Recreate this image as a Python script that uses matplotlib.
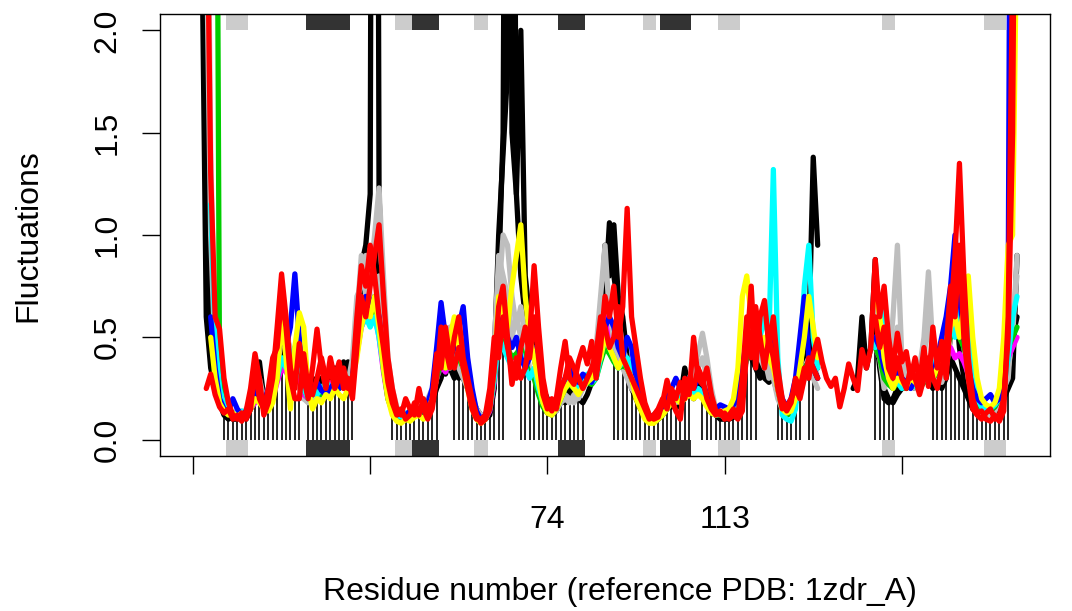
import numpy as np
import matplotlib
matplotlib.use("Agg")
import matplotlib.pyplot as plt
from matplotlib.patches import Rectangle

plt.rcParams['font.family'] = ['Liberation Sans', 'DejaVu Sans']

NA = np.nan

# ---------------- data (alignment positions 0..186) ----------------
red_a = [NA,NA,NA,0.25,0.32,0.22,0.16,0.13,0.15,0.10,
 0.12,0.09,0.14,0.25,0.42,0.30,0.12,0.18,0.30,0.55,
 0.81,0.60,0.35,0.25,0.47,0.30,0.20,0.35,0.54,0.35,
 0.25,0.40,0.30,0.38,0.25,0.30,0.20,0.45,0.70,0.60,
 0.75,0.90,1.05,0.70,0.40,0.25,0.15,0.12,0.20,0.15,
 0.12,0.25,0.15,0.10,0.15,0.30,0.55,0.45,0.35,0.50,
 0.60,0.40,0.30,0.20,0.12,0.08,0.10,0.15,0.35,0.65,
 0.75,0.50,0.27,0.40,0.30,0.35,0.50,0.85,0.55,0.30,
 0.18,0.14,0.20,0.35,0.48,0.30,0.27,0.38,0.45,0.37,
 0.48,0.30,0.45,0.70,0.60,0.75,0.50,0.65,1.13,0.60,
 0.45,0.30,0.18,0.12,0.10,0.11,0.18,0.29,0.20,0.14,
 0.10,0.30,0.22,0.50,0.30,0.27,0.35,0.22,0.14,0.12,
 0.13,0.10,0.12,0.10,0.14,0.45,0.75,0.35,0.60,0.68,
 0.45,0.60,0.35,0.20,0.14,0.18,0.30,0.25,0.35,0.30,
 0.42,0.49,0.38,0.30,0.26,0.30,0.16,0.25,0.37,0.30,
 0.24,0.44,0.35,0.45,0.88,0.60,0.75,0.50,0.35,0.52,
 0.38,0.43,0.30,0.40,0.28,0.45,0.26,0.55,0.35,0.48,
 0.30,0.60,0.90,1.35,0.80,0.40,0.20,0.13,0.14,0.10,
 0.09,0.12,0.09,0.14,0.60,2.30,5.00]

red_b = [4.5,4.0,3.5,3.0,1.3,0.60,0.54,0.30,0.18,0.12,
 0.10,0.13,0.10,0.15,0.35,0.20,0.15,0.25,0.40,0.45,
 0.70,0.55,0.30,0.20,0.20,0.42,0.25,0.22,0.30,0.40,
 0.30,0.35,0.25,0.30,0.35,0.25,0.30,0.60,0.85,0.75,
 0.95,0.80,0.60,0.45,0.28,0.18,0.12,0.15,0.10,0.12,
 0.18,0.12,0.20,0.14,0.20,0.42,0.35,0.55,0.40,0.35,
 0.45,0.35,0.25,0.15,0.10,0.10,0.12,0.25,0.50,0.40,
 0.60,0.45,0.35,0.30,0.45,0.55,0.40,0.60,0.40,0.22,
 0.15,0.20,0.15,0.25,0.30,0.40,0.35,0.30,0.25,0.30,
 0.35,0.42,0.60,0.55,0.45,0.50,0.65,0.40,0.35,0.30,
 0.25,0.20,0.15,0.10,0.12,0.15,0.20,0.15,0.25,0.20,
 0.28,0.20,0.30,0.25,0.35,0.30,0.20,0.15,0.12,0.14,
 0.10,0.12,0.15,0.12,0.30,0.60,0.40,0.65,0.50,0.35,
 0.50,0.40,0.25,0.15,0.16,0.20,0.25,0.20,0.30,0.40,
 0.35,0.30,NA,NA,NA,NA,NA,NA,NA,NA,
 NA,NA,NA,NA,0.60,0.45,0.55,0.35,0.30,0.40,
 0.30,0.25,0.35,0.30,0.22,0.30,0.40,0.30,0.25,0.35,
 0.45,0.75,0.60,0.95,0.50,0.30,0.15,0.12,0.10,0.13,
 0.15,0.10,0.12,0.20,0.50,1.50,4.50]

black_a = [5.0,4.5,4.0,1.00,0.45,0.30,0.20,0.15,0.12,0.10,
 0.10,0.12,0.10,0.15,0.30,0.38,0.20,0.15,0.20,0.30,
 0.45,0.55,0.40,0.30,0.40,0.25,0.20,0.25,0.30,0.25,
 0.30,0.28,0.35,0.30,0.38,0.32,0.30,0.45,0.85,0.95,
 1.20,9.00,1.20,0.60,0.35,0.20,0.14,0.12,0.10,0.11,
 0.13,0.15,0.12,0.15,0.18,0.25,0.30,0.40,0.35,0.30,
 0.40,0.30,0.25,0.20,0.15,0.12,0.10,0.12,0.25,0.80,
 1.50,6.00,1.50,1.20,2.00,0.80,0.60,0.50,0.35,0.25,
 0.20,0.15,0.14,0.18,0.20,0.25,0.22,0.20,0.18,0.22,
 0.28,0.30,0.55,0.95,0.80,1.05,0.70,0.60,0.40,0.30,
 0.25,0.20,0.15,0.12,0.10,0.10,0.12,0.15,0.18,0.15,
 0.20,0.35,0.25,0.20,0.28,0.30,0.20,0.15,0.12,0.10,
 0.10,0.10,0.11,0.12,0.20,0.55,0.40,0.35,0.30,0.35,
 0.30,0.35,0.25,0.18,0.15,0.14,0.18,0.25,0.30,0.50,
 1.38,0.95,NA,NA,NA,NA,NA,NA,NA,0.25,
 0.30,0.60,0.35,0.45,0.88,0.40,0.25,0.20,0.18,0.22,
 0.25,0.30,0.28,0.35,0.25,0.30,0.35,0.45,0.30,0.25,
 0.30,0.40,0.35,0.30,0.25,0.20,0.15,0.13,0.12,0.12,
 0.13,0.15,0.14,0.20,0.25,0.30,0.90]

black_b = [4.0,3.0,2.5,0.60,0.35,0.25,0.18,0.12,0.10,0.12,
 0.14,0.10,0.12,0.20,0.25,0.30,0.18,0.20,0.25,0.35,
 0.50,0.40,0.30,0.35,0.28,0.20,0.22,0.30,0.25,0.30,
 0.25,0.32,0.28,0.30,0.35,0.38,0.33,0.50,0.70,0.90,
 0.85,0.95,0.70,0.45,0.28,0.16,0.12,0.10,0.12,0.14,
 0.12,0.13,0.15,0.18,0.22,0.30,0.35,0.32,0.40,0.35,
 0.30,0.35,0.28,0.18,0.12,0.10,0.12,0.18,0.40,1.00,
 1.40,1.80,5.00,1.20,0.80,0.60,0.45,0.40,0.30,0.22,
 0.16,0.14,0.16,0.20,0.18,0.22,0.20,0.24,0.28,0.30,
 0.32,0.35,0.45,0.70,1.06,0.80,0.65,0.50,0.35,0.25,
 0.20,0.15,0.12,0.11,0.12,0.14,0.16,0.20,0.16,0.22,
 0.25,0.30,0.22,0.25,0.30,0.25,0.18,0.14,0.12,0.11,
 0.12,0.11,0.13,0.14,0.25,0.45,0.50,0.40,0.35,0.30,
 0.28,0.30,0.22,0.16,0.14,0.15,0.20,0.30,0.35,0.30,
 0.50,0.35,NA,NA,NA,NA,NA,NA,NA,NA,
 NA,NA,NA,NA,0.55,0.35,0.20,0.18,0.20,0.25,
 0.30,0.25,0.30,0.25,0.30,0.35,0.30,0.25,0.30,0.45,
 0.35,0.50,0.70,0.45,0.30,0.25,0.18,0.15,0.13,0.14,
 0.15,0.14,0.18,0.22,0.35,0.50,0.60]

gray_a = [5.0,4.5,4.0,3.5,1.40,0.45,0.30,0.20,0.15,0.12,
 0.14,0.12,0.15,0.18,0.25,0.22,0.18,0.20,0.28,0.40,
 0.60,0.50,0.45,0.35,0.30,0.22,0.20,0.18,0.22,0.20,
 0.25,0.22,0.25,0.28,0.25,0.30,0.35,0.60,0.90,0.70,
 0.80,1.00,1.23,0.80,0.40,0.25,0.16,0.13,0.12,0.13,
 0.14,0.16,0.15,0.17,0.20,0.30,0.40,0.50,0.55,0.45,
 0.40,0.35,0.30,0.22,0.15,0.12,0.10,0.15,0.30,0.70,
 1.00,0.95,0.70,0.55,0.65,0.50,0.45,0.40,0.30,0.20,
 0.15,0.13,0.14,0.18,0.20,0.18,0.22,0.20,0.25,0.30,
 0.35,0.45,0.70,0.95,0.60,0.50,0.60,0.45,0.38,0.30,
 0.28,0.20,0.14,0.12,0.11,0.12,0.14,0.18,0.20,0.22,
 0.20,0.25,0.30,0.35,0.42,0.52,0.40,0.25,0.15,0.13,
 0.12,0.11,0.12,0.15,0.30,0.50,0.65,0.55,0.40,0.35,
 0.38,0.30,0.20,0.15,0.12,0.14,0.18,0.25,0.35,0.40,
 0.30,0.25,NA,NA,NA,NA,NA,NA,NA,NA,
 NA,NA,NA,NA,0.70,0.50,0.30,0.35,0.60,0.95,
 0.40,0.30,0.25,0.30,0.35,0.50,0.82,0.45,0.30,0.28,
 0.35,0.50,0.70,0.55,0.45,0.30,0.20,0.16,0.14,0.12,
 0.12,0.14,0.18,0.25,0.30,0.60,0.80]

gray_b = [4.0,3.5,3.0,2.5,1.00,0.40,0.25,0.18,0.14,0.11,
 0.12,0.14,0.12,0.16,0.22,0.30,0.20,0.16,0.22,0.35,
 0.50,0.58,0.40,0.30,0.25,0.20,0.18,0.22,0.26,0.22,
 0.28,0.25,0.30,0.25,0.30,0.28,0.40,0.70,0.75,0.90,
 0.70,0.60,0.80,0.55,0.30,0.20,0.14,0.12,0.13,0.12,
 0.15,0.14,0.16,0.20,0.25,0.35,0.45,0.40,0.35,0.40,
 0.35,0.30,0.25,0.20,0.14,0.11,0.12,0.20,0.45,0.90,
 0.80,0.70,0.50,0.60,0.50,0.45,0.35,0.30,0.25,0.18,
 0.14,0.15,0.17,0.20,0.22,0.20,0.18,0.22,0.25,0.28,
 0.30,0.40,0.55,0.60,0.50,0.45,0.40,0.35,0.30,0.25,
 0.22,0.18,0.13,0.11,0.12,0.13,0.15,0.17,0.22,0.18,
 0.22,0.20,0.25,0.30,0.35,0.40,0.30,0.20,0.14,0.12,
 0.11,0.12,0.13,0.14,0.25,0.40,0.50,0.60,0.45,0.40,
 0.30,0.35,0.25,0.16,0.13,0.15,0.20,0.22,0.30,0.35,
 0.40,0.30,NA,NA,NA,NA,NA,NA,NA,NA,
 NA,NA,NA,NA,0.50,0.40,0.25,0.30,0.45,0.55,
 0.35,0.28,0.30,0.25,0.30,0.40,0.60,0.40,0.35,0.30,
 0.40,0.60,0.55,0.70,0.50,0.35,0.22,0.15,0.13,0.14,
 0.13,0.15,0.20,0.22,0.35,0.50,0.90]

blue = [NA,NA,NA,NA,0.60,0.35,0.20,0.15,0.14,0.20,
 0.15,0.12,0.14,0.18,0.25,0.20,0.18,0.25,0.30,0.40,
 0.50,0.45,0.55,0.81,0.50,0.30,0.22,0.25,0.28,0.24,
 0.22,0.25,0.28,0.25,0.30,0.28,0.30,0.50,0.60,0.70,
 0.65,0.70,0.60,0.40,0.25,0.16,0.12,0.13,0.12,0.14,
 0.13,0.15,0.14,0.18,0.25,0.45,0.67,0.50,0.40,0.45,
 0.55,0.65,0.40,0.25,0.14,0.10,0.12,0.18,0.35,0.60,
 0.55,0.50,0.45,0.50,0.40,0.35,0.40,0.45,0.30,0.20,
 0.15,0.14,0.18,0.25,0.30,0.35,0.30,0.28,0.32,0.30,
 0.28,0.35,0.45,0.55,0.60,0.55,0.45,0.40,0.50,0.45,
 0.30,0.20,0.14,0.12,0.11,0.13,0.15,0.20,0.25,0.30,
 0.25,0.28,0.30,0.25,0.30,0.28,0.22,0.16,0.15,0.17,
 0.16,0.15,0.17,0.20,0.35,0.50,0.45,0.40,0.50,0.45,
 0.40,0.50,0.30,0.20,0.16,0.20,0.30,0.50,0.70,0.40,
 0.35,0.30,NA,NA,NA,NA,NA,NA,NA,NA,
 NA,NA,NA,NA,0.50,0.45,0.35,0.30,0.28,0.35,
 0.30,0.28,0.25,0.30,0.28,0.30,0.35,0.30,0.40,0.50,
 0.60,0.75,1.00,0.70,0.50,0.35,0.25,0.20,0.18,0.20,
 0.22,0.18,0.20,0.30,0.70,6.00,7.00]

cyan = [NA,NA,NA,NA,1.15,0.50,0.25,0.17,0.14,0.13,
 0.12,0.14,0.13,0.16,0.20,0.22,0.18,0.20,0.25,0.30,
 0.40,0.35,0.40,0.45,0.35,0.25,0.20,0.25,0.22,0.25,
 0.28,0.26,0.24,0.28,0.26,0.30,0.28,0.45,0.55,0.60,
 0.55,0.60,0.50,0.35,0.22,0.15,0.12,0.11,0.13,0.12,
 0.14,0.13,0.16,0.18,0.22,0.35,0.45,0.40,0.35,0.45,
 0.50,0.48,0.35,0.22,0.13,0.10,0.11,0.15,0.30,0.50,
 0.45,0.40,0.35,0.38,0.42,0.35,0.30,0.35,0.25,0.18,
 0.14,0.13,0.16,0.22,0.28,0.30,0.27,0.25,0.30,0.32,
 0.28,0.30,0.40,0.50,0.45,0.40,0.35,0.38,0.40,0.35,
 0.25,0.18,0.12,0.10,0.09,0.11,0.13,0.17,0.20,0.22,
 0.20,0.22,0.25,0.22,0.25,0.23,0.18,0.14,0.12,0.13,
 0.12,0.13,0.15,0.18,0.30,0.45,0.50,0.55,0.50,0.60,
 0.50,1.32,0.40,0.12,0.10,0.09,0.15,0.40,0.75,0.95,
 0.50,0.35,NA,NA,NA,NA,NA,NA,NA,NA,
 NA,NA,NA,NA,0.45,0.55,0.65,0.45,0.30,0.28,
 0.25,0.28,0.30,0.26,0.28,0.30,0.28,0.35,0.40,0.45,
 0.55,0.60,0.50,0.65,0.80,0.50,0.30,0.20,0.16,0.14,
 0.15,0.17,0.20,0.25,0.40,0.60,0.70]

yellow = [NA,NA,NA,NA,0.50,0.30,0.18,0.14,0.12,0.13,
 0.11,0.13,0.12,0.15,0.20,0.18,0.15,0.14,0.18,0.30,
 0.62,0.40,0.15,0.45,0.62,0.55,0.25,0.15,0.20,0.18,
 0.22,0.20,0.25,0.22,0.20,0.25,0.30,0.40,0.55,0.65,
 0.60,0.70,0.55,0.35,0.20,0.12,0.09,0.08,0.10,0.09,
 0.11,0.12,0.10,0.14,0.20,0.35,0.40,0.35,0.50,0.60,
 0.45,0.35,0.25,0.15,0.10,0.08,0.10,0.16,0.35,0.70,
 0.60,0.55,0.75,0.90,1.05,0.70,0.50,0.40,0.28,0.18,
 0.13,0.12,0.15,0.20,0.25,0.28,0.25,0.22,0.26,0.28,
 0.30,0.35,0.40,0.50,0.45,0.40,0.35,0.40,0.35,0.30,
 0.20,0.15,0.10,0.08,0.08,0.10,0.12,0.15,0.18,0.20,
 0.18,0.20,0.22,0.20,0.22,0.20,0.16,0.13,0.12,0.13,
 0.14,0.15,0.20,0.35,0.70,0.80,0.60,0.55,0.45,0.50,
 0.40,0.35,0.25,0.15,0.13,0.14,0.20,0.35,0.50,0.70,
 0.55,0.40,NA,NA,NA,NA,NA,NA,NA,NA,
 NA,NA,NA,NA,0.72,0.60,0.40,0.30,0.25,0.30,
 0.28,0.26,0.30,0.28,0.26,0.30,0.35,0.30,0.35,0.40,
 0.45,0.55,0.60,0.50,0.65,0.80,0.50,0.30,0.20,0.17,
 0.16,0.18,0.25,0.50,0.95,1.00,2.60]

green = [NA,NA,NA,NA,6.0,5.0,0.30,0.16,0.13,0.12,
 0.12,0.13,0.12,0.15,0.20,0.20,0.16,0.18,0.22,0.30,
 0.40,0.38,0.35,0.40,0.35,0.25,0.20,0.22,0.24,0.22,
 0.25,0.24,0.26,0.25,0.28,0.27,0.30,0.45,0.60,0.65,
 0.60,0.65,0.55,0.35,0.20,0.14,0.11,0.10,0.11,0.12,
 0.12,0.13,0.14,0.16,0.20,0.30,0.38,0.35,0.40,0.42,
 0.40,0.35,0.28,0.18,0.12,0.09,0.10,0.15,0.30,0.50,
 0.48,0.45,0.40,0.42,0.45,0.38,0.32,0.30,0.22,0.16,
 0.13,0.12,0.15,0.20,0.25,0.27,0.25,0.23,0.27,0.28,
 0.27,0.30,0.38,0.45,0.42,0.38,0.35,0.36,0.35,0.30,
 0.22,0.16,0.11,0.09,0.09,0.10,0.12,0.15,0.18,0.20,
 0.19,0.21,0.23,0.21,0.23,0.21,0.17,0.13,0.12,0.12,
 0.12,0.13,0.15,0.18,0.30,0.40,0.45,0.45,0.50,0.45,
 0.40,0.38,0.25,0.15,0.12,0.13,0.20,0.30,0.35,0.38,
 0.35,0.30,NA,NA,NA,NA,NA,NA,NA,NA,
 NA,NA,NA,NA,0.45,0.40,0.30,0.27,0.25,0.28,
 0.26,0.25,0.27,0.26,0.25,0.28,0.30,0.30,0.33,0.38,
 0.45,0.50,0.55,0.50,0.45,0.38,0.25,0.18,0.15,0.14,
 0.14,0.16,0.20,0.30,0.45,0.50,0.55]

magenta = [NA,NA,NA,NA,NA,0.30,0.20,0.15,0.13,0.12,
 0.12,0.13,0.13,0.15,0.18,0.20,0.17,0.18,0.20,0.28,
 0.35,0.33,0.30,0.35,0.30,0.22,0.20,0.22,0.25,0.24,
 0.26,0.28,0.27,0.26,0.28,0.27,0.30,0.42,0.55,0.60,
 0.58,0.62,0.50,0.33,0.20,0.14,0.11,0.10,0.11,0.12,
 0.12,0.13,0.15,0.17,0.20,0.30,0.36,0.33,0.38,0.40,
 0.42,0.38,0.30,0.20,0.12,0.09,0.10,0.14,0.28,0.48,
 0.45,0.42,0.40,0.40,0.42,0.36,0.30,0.32,0.24,0.17,
 0.13,0.12,0.15,0.22,0.28,0.32,0.30,0.27,0.29,0.30,
 0.28,0.32,0.50,0.60,0.45,0.40,0.36,0.37,0.36,0.30,
 0.22,0.16,0.11,0.09,0.09,0.10,0.12,0.15,0.18,0.20,
 0.19,0.21,0.23,0.21,0.23,0.21,0.17,0.13,0.12,0.12,
 0.12,0.13,0.15,0.18,0.30,0.40,0.45,0.45,0.48,0.45,
 0.40,0.38,0.25,0.15,0.12,0.13,0.20,0.30,0.35,0.38,
 0.35,0.30,NA,NA,NA,NA,NA,NA,NA,NA,
 NA,NA,NA,NA,0.45,0.40,0.32,0.28,0.26,0.28,
 0.27,0.26,0.27,0.26,0.26,0.29,0.30,0.30,0.33,0.38,
 0.42,0.45,0.40,0.42,0.38,0.32,0.22,0.17,0.15,0.14,
 0.14,0.16,0.20,0.30,0.40,0.45,0.50]

# significant-difference positions (start, end)
signif_ranges = [(7, 24), (26, 36), (45, 55), (59, 70), (74, 88), (95, 112),
                 (115, 127), (132, 137), (139, 140), (154, 158), (167, 184)]

# secondary structure (start, end)
sse_strand = [(8, 12), (46, 49), (64, 66), (102, 104), (119, 123), (156, 158), (179, 183)]
sse_helix = [(26, 35), (50, 55), (83, 88), (106, 112)]

tick_pos = [0, 40, 80, 120, 160]
tick_lab = ["", "", "74", "113", ""]
y_ticks = [0.0, 0.5, 1.0, 1.5, 2.0]
y_labs = ["0.0", "0.5", "1.0", "1.5", "2.0"]

# ---------------- plot ----------------
W, H = 1072, 611
FS = 23
fig = plt.figure(figsize=(W / 100, H / 100), dpi=100)
ax = fig.add_axes([160 / W, 1 - 456 / H, 890 / W, 442 / H])

n = len(red_a)
x = np.arange(n)
span = n - 1
ax.set_xlim(-0.04 * span, span * 1.04)
ax.set_ylim(-0.08, 2.08)

series = [
    (black_b, "black"), (black_a, "black"),
    (gray_b, "#bebebe"), (gray_a, "#bebebe"),
    (magenta, "#ff00ff"), (green, "#00cd00"),
    (cyan, "#00ffff"), (blue, "#0000ff"), (yellow, "#ffff00"),
    (red_b, "#ff0000"), (red_a, "#ff0000"),
]

allv = np.array([s for s, _ in series], dtype=float)
with np.errstate(all="ignore"):
    mins = np.nanmin(allv, axis=0)

# significance bars
idx = []
for s, e in signif_ranges:
    idx.extend(range(s, e + 1))
idx = np.array(idx)
ax.vlines(idx, 0, mins[idx], colors="black", lw=1.2, zorder=1)

# sse rectangles top and bottom
for (s, e) in sse_strand:
    for yb in (2.0, -0.08):
        ax.add_patch(Rectangle((s - 0.5, yb), e - s + 1, 0.08, facecolor="#cccccc",
                               edgecolor="none", zorder=0.5))
for (s, e) in sse_helix:
    for yb in (2.0, -0.08):
        ax.add_patch(Rectangle((s - 0.5, yb), e - s + 1, 0.08, facecolor="#333333",
                               edgecolor="none", zorder=0.5))

for vals, col in series:
    ax.plot(x, np.array(vals, dtype=float), color=col, lw=3.8,
            solid_capstyle="round", solid_joinstyle="round", zorder=2)

for sp in ax.spines.values():
    sp.set_linewidth(1.0)
    sp.set_color("black")

ax.set_xticks(tick_pos)
ax.set_xticklabels(tick_lab, fontsize=FS)
ax.set_yticks(y_ticks)
ax.set_yticklabels(y_labs, fontsize=FS, rotation=90, va="center")
ax.tick_params(axis="x", length=13, width=1.0, pad=22)
ax.tick_params(axis="y", length=13, width=1.0, pad=14)

fig.text(620 / W, 1 - 592 / H, "Residue number (reference PDB: 1zdr_A)",
         ha="center", va="center", fontsize=FS)
fig.text(28 / W, 1 - 236 / H, "Fluctuations", rotation=90,
         ha="center", va="center", fontsize=FS)

fig.savefig("out.png", dpi=100, facecolor="white")
